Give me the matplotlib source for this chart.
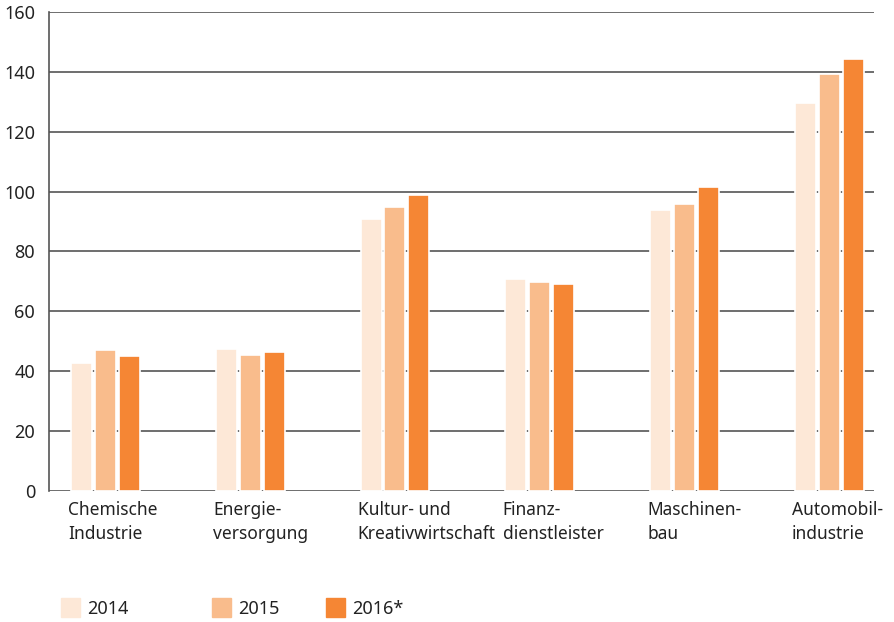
import matplotlib.pyplot as plt
from matplotlib.patches import Rectangle
import numpy as np

plt.rcParams['font.family'] = ['Noto Sans', 'DejaVu Sans']

categories = ["Chemische\nIndustrie", "Energie-\nversorgung", "Kultur- und\nKreativwirtschaft",
              "Finanz-\ndienstleister", "Maschinen-\nbau", "Automobil-\nindustrie"]
years = ["2014", "2015", "2016*"]
v2014 = [42.8, 47.4, 90.8, 70.8, 93.9, 129.6]
v2015 = [47.1, 45.4, 94.9, 69.8, 95.9, 139.3]
v2016 = [45.1, 46.4, 98.9, 69.1, 101.5, 144.3]
colors = ["#FDE8D7", "#F9BC8C", "#F58634"]

fig = plt.figure(figsize=(8.95, 6.22), dpi=100)
ax = fig.add_axes([49 / 895, 131 / 622, 825 / 895, 479 / 622])

x = np.arange(len(categories))
w = 0.145
step = 0.165
for k, vals in enumerate([v2014, v2015, v2016]):
    ax.bar(x + (k - 1) * step, vals, width=w, color=colors[k],
           edgecolor="white", linewidth=1.2, zorder=3)

ax.set_ylim(0, 160)
ax.set_xlim(-0.39, 5.31)
ax.set_yticks(range(0, 161, 20))
ax.yaxis.grid(True, color="#555555", linewidth=1.2, zorder=0)
ax.tick_params(axis="y", length=0, pad=10, labelsize=13, labelcolor="#222222")
ax.tick_params(axis="x", length=0)
ax.set_xticks([])
for s in ["top", "right", "bottom"]:
    ax.spines[s].set_visible(False)
ax.spines["left"].set_color("#555555")
ax.spines["left"].set_linewidth(1.2)

for i, lab in enumerate(categories):
    ax.annotate(lab, xy=(x[i] - step - w / 2, 0), xytext=(-2, -7),
                textcoords="offset points", ha="left", va="top",
                fontsize=12.5, color="#222222", linespacing=1.45)

# legend
lx = [61, 212, 326]
for k, yr in enumerate(years):
    fig.patches.append(Rectangle((lx[k] / 895, (622 - 617) / 622), 19 / 895, 19 / 622,
                                 transform=fig.transFigure, color=colors[k]))
    fig.text((lx[k] + 26) / 895, (622 - 609) / 622, yr, fontsize=13,
             color="#222222", va="center", ha="left")

fig.savefig("out.png", dpi=100)
